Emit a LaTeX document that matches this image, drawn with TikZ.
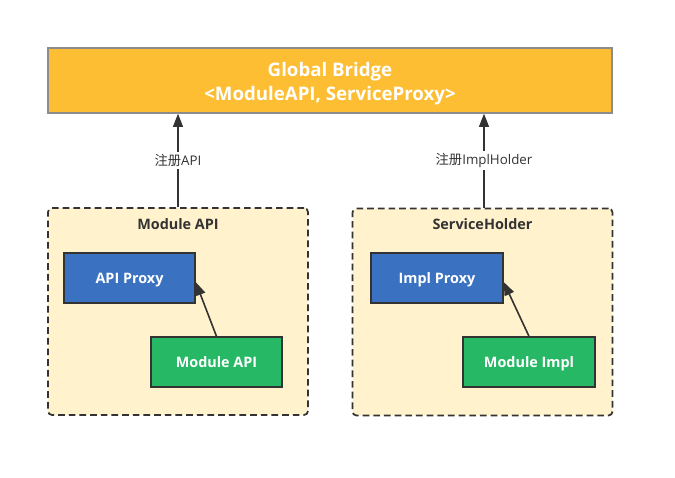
\documentclass[tikz,border=0pt]{standalone}
\usepackage{fontspec}
\setmainfont{Open Sans}
\newfontfamily\cjk{Noto Sans CJK SC}
\usetikzlibrary{arrows.meta,positioning}
\definecolor{bridgefill}{HTML}{FDBE33}
\definecolor{bridgeline}{HTML}{8C8C8C}
\definecolor{groupfill}{HTML}{FFF2CC}
\definecolor{proxyfill}{HTML}{3A72C1}
\definecolor{implfill}{HTML}{26B865}
\definecolor{darkline}{HTML}{333333}
\tikzset{
  bridgebox/.style={draw=bridgeline, fill=bridgefill, line width=1pt, inner sep=0pt},
  bridgetext/.style={inner sep=0pt, font=\bfseries\fontsize{14}{17.8}\selectfont, text=white, align=center},
  groupbox/.style={draw=darkline, fill=groupfill, dash pattern=on 5pt off 3pt,
    line width=1.3pt, rounded corners=3pt, inner sep=0pt},
  grouptitle/.style={inner sep=0pt, text height=0.9em, text depth=0.04em,
    font=\bfseries\fontsize{10.8}{13}\selectfont, text=darkline},
  proxybox/.style={draw=darkline, fill=proxyfill, line width=1pt, inner sep=0pt,
    text height=0.9em, text depth=0.04em,
    font=\bfseries\fontsize{10.8}{13}\selectfont, text=white},
  implbox/.style={draw=darkline, fill=implfill, line width=1pt, inner sep=0pt,
    text height=0.9em, text depth=0.04em,
    font=\bfseries\fontsize{10.8}{13}\selectfont, text=white},
  conn/.style={draw=darkline, line width=1.2pt, -{Triangle[length=10pt,width=7.5pt]}},
  edgelabel/.style={fill=white, inner sep=1.5pt, font=\fontsize{10}{12}\selectfont, text=darkline},
}
\begin{document}
\begin{tikzpicture}[x=0.75pt,y=-0.75pt]
\useasboundingbox (0,0) rectangle (675,478);
% top bridge
\node[bridgebox, minimum width=564*0.75pt, minimum height=65*0.75pt] (bridge) at (330,80.5) {};
\node[bridgetext] (bridgelabel) at (330,83.5) {Global Bridge\\{<}ModuleAPI, ServiceProxy{>}};
% groups
\node[groupbox, minimum width=260*0.75pt, minimum height=207*0.75pt] (gleft) at (178,311.5) {};
\node[groupbox, minimum width=260*0.75pt, minimum height=207*0.75pt] (gright) at (482.5,312) {};
\node[grouptitle] (tleft) at (178,224) {Module API};
\node[grouptitle] (tright) at (482.5,224) {ServiceHolder};
% inner boxes
\node[proxybox, minimum width=131*0.75pt, minimum height=50*0.75pt] (apiproxy) at (129.5,278) {API Proxy};
\node[implbox, minimum width=131*0.75pt, minimum height=50*0.75pt] (modapi) at (216.5,362) {Module API};
\node[proxybox, minimum width=132*0.75pt, minimum height=50*0.75pt] (implproxy) at (437,278) {Impl Proxy};
\node[implbox, minimum width=132*0.75pt, minimum height=50*0.75pt] (modimpl) at (529,362) {Module Impl};
% coordinates for connectors
\coordinate (ltop) at (bridge.south -| 178,0);
\coordinate (rbot) at (gright.north -| 484,0);
\coordinate (rtop) at (bridge.south -| 484,0);
% connectors
\draw[conn] (gleft.north -| ltop) -- node[edgelabel, pos=0.5] (lab1) {{\cjk 注册}API} (ltop);
\draw[conn] (rbot) -- node[edgelabel, pos=0.5] (lab2) {{\cjk 注册}ImplHolder} (rtop);
\draw[conn] (modapi.north) -- (apiproxy.east |- 0,282);
\draw[conn] (modimpl.north) -- (implproxy.east |- 0,282);
\end{tikzpicture}
\end{document}
